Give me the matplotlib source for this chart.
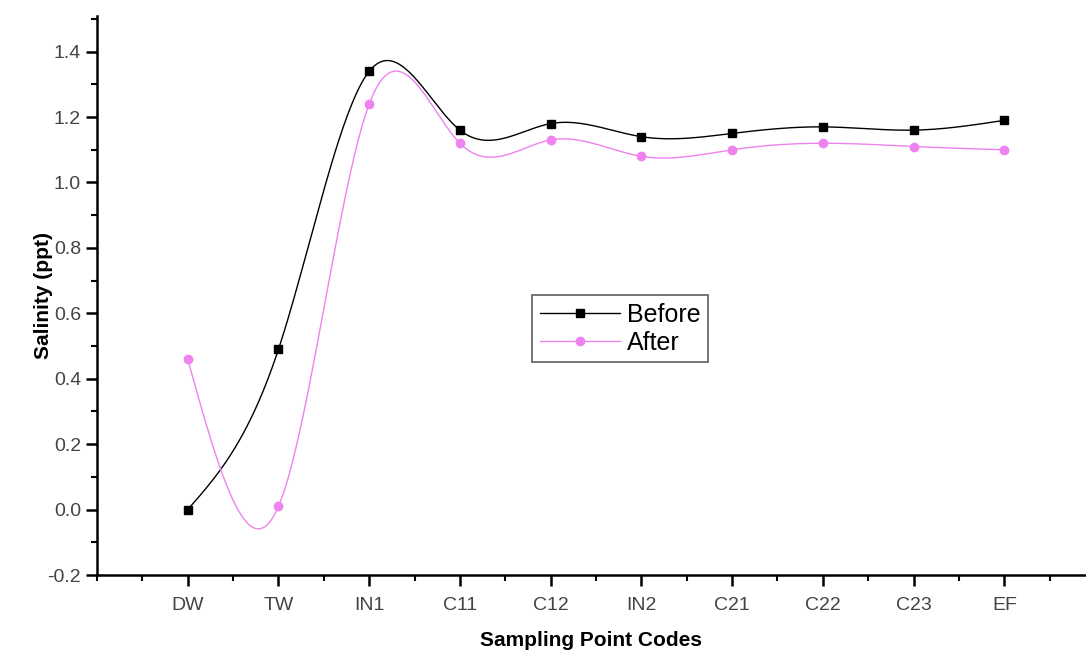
import matplotlib
matplotlib.use("Agg")
import matplotlib.pyplot as plt
import numpy as np
from matplotlib.ticker import MultipleLocator

plt.rcParams['font.family'] = ['Liberation Sans', 'DejaVu Sans']
plt.rcParams['axes.unicode_minus'] = False

codes = ["DW", "TW", "IN1", "C11", "C12", "IN2", "C21", "C22", "C23", "EF"]
before = [0.00, 0.49, 1.34, 1.16, 1.18, 1.14, 1.15, 1.17, 1.16, 1.19]
after = [0.46, 0.01, 1.24, 1.12, 1.13, 1.08, 1.10, 1.12, 1.11, 1.10]


def natural_spline(x, y, n=400):
    # natural cubic spline through the points, like Origin's spline connect
    x = np.asarray(x, float)
    y = np.asarray(y, float)
    h = np.diff(x)
    m = len(x)
    A = np.zeros((m, m))
    r = np.zeros(m)
    A[0, 0] = A[-1, -1] = 1
    for i in range(1, m - 1):
        A[i, i - 1] = h[i - 1]
        A[i, i] = 2 * (h[i - 1] + h[i])
        A[i, i + 1] = h[i]
        r[i] = 3 * ((y[i + 1] - y[i]) / h[i] - (y[i] - y[i - 1]) / h[i - 1])
    c = np.linalg.solve(A, r)
    b = (y[1:] - y[:-1]) / h - h * (2 * c[:-1] + c[1:]) / 3
    d = (c[1:] - c[:-1]) / (3 * h)
    xs = np.linspace(x[0], x[-1], n)
    k = np.clip(np.searchsorted(x, xs) - 1, 0, m - 2)
    t = xs - x[k]
    ys = y[k] + b[k] * t + c[k] * t ** 2 + d[k] * t ** 3
    return xs, ys


pos = np.arange(1, len(codes) + 1)

fig = plt.figure(figsize=(10.86, 6.55), dpi=100)
ax = fig.add_axes([0.0893, 0.1221, 0.9107, 0.854])

violet = "#ee82ee"

xs, ys = natural_spline(pos, before)
ax.plot(xs, ys, color="black", lw=1)
ax.plot(pos, before, "s", color="black", ms=6)
xs, ys = natural_spline(pos, after)
ax.plot(xs, ys, color=violet, lw=1)
ax.plot(pos, after, "o", color=violet, ms=6)

# legend proxies
ax.plot([], [], "-s", color="black", lw=1, ms=6, label="Before")
ax.plot([], [], "-o", color=violet, lw=1, ms=6, label="After")

ax.set_xlim(0, 10.9)
ax.set_ylim(-0.2, 1.51)
ax.set_xticks(pos)
ax.set_xticklabels(codes)
ax.xaxis.set_minor_locator(MultipleLocator(0.5))
ax.yaxis.set_major_locator(MultipleLocator(0.2))
ax.yaxis.set_minor_locator(MultipleLocator(0.1))

for s in ["top", "right"]:
    ax.spines[s].set_visible(False)
for s in ["left", "bottom"]:
    ax.spines[s].set_linewidth(1.8)

ax.tick_params(axis="both", which="major", labelsize=14, labelcolor="#444444",
               width=1.8, length=8, direction="out")
ax.tick_params(axis="both", which="minor", width=1.5, length=4, direction="out")
ax.tick_params(axis="x", which="major", pad=8)

ax.set_xlabel("Sampling Point Codes", fontsize=15, fontweight="bold", labelpad=12)
ax.set_ylabel("Salinity (ppt)", fontsize=15, fontweight="bold", labelpad=-4)

leg = ax.legend(loc="upper left", bbox_to_anchor=(0.44, 0.5), fontsize=18,
                frameon=True, fancybox=False, edgecolor="#333333",
                handlelength=3.2, handletextpad=0.3, borderpad=0.3,
                labelspacing=0.15, borderaxespad=0)
leg.get_frame().set_linewidth(1.2)

fig.savefig("out.png", dpi=100)
